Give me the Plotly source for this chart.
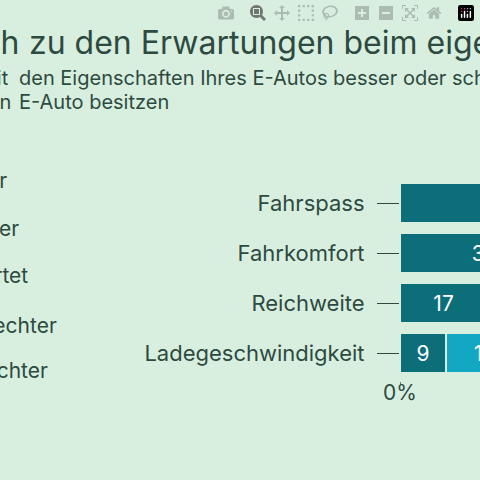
import plotly.graph_objects as go

# Data
categories = ["Fahrspass", "Fahrkomfort", "Reichweite", "Ladegeschwindigkeit"]
series_names = ["Viel besser", "Etwas besser", "Genau wie erwartet", "Etwas schlechter", "Viel schlechter"]
values = [
    [38, 33, 17, 9],
    [32, 36, 28, 15],
    [24, 25, 30, 38],
    [5, 5, 19, 28],
    [1, 1, 6, 10],
]
colors = ["#0b6e79", "#12a8c3", "#9fd3dc", "#e3a36a", "#c5613a"]

bg = "#d8efe0"
ink = "#2e4a40"
font = "Inter, Roboto, sans-serif"

fig = go.Figure()
for name, vals, col in zip(series_names, values, colors):
    fig.add_trace(go.Bar(
        y=categories, x=vals, name=name, orientation="h",
        marker=dict(color=col, line=dict(color=bg, width=1.5)),
        text=vals, textposition="inside", insidetextanchor="middle",
        textfont=dict(color="white", size=21, family=font),
        showlegend=False,
    ))

fig.update_layout(
    width=480, height=480,
    barmode="stack", bargap=0.2,
    paper_bgcolor=bg, plot_bgcolor=bg,
    margin=dict(l=0, r=0, t=0, b=0),
    font=dict(family=font, color=ink),
    uniformtext=dict(mode="show", minsize=21),
    xaxis=dict(domain=[397 / 480, 1], range=[0, 15.6], showgrid=False, zeroline=False,
               tickvals=[0], ticktext=["0%"], ticks="", tickfont=dict(size=21, color=ink)),
    yaxis=dict(domain=[1 - 378 / 480, 1 - 178 / 480], autorange="reversed",
               ticks="outside", ticklen=22, tickcolor=ink, tickwidth=1.2,
               ticklabelstandoff=8,
               tickfont=dict(size=22, color=ink), showline=False),
)

# zero marks at the axis start
fig.add_shape(type="line", xref="x", yref="paper", x0=0, x1=0,
              y0=1 - 384 / 480, y1=1 - 176 / 480,
              line=dict(color=ink, width=1.5, dash="2px,46px"), layer="below")

def px(x):
    return x / 480

def py(y):
    return 1 - y / 480

# title and subtitle (cropped at the sides)
texts = [
    ("E-Autos: Eigenschaften im Vergleich", 4, 42, "right", 32),
    ("zu den Erwartungen beim eigenen E-Auto", 10, 42, "left", 32),
    ("Sind Sie mit", -6, 78, "right", 20),
    ("den Eigenschaften Ihres E-Autos besser oder schlechter zufrieden als erwartet?", 0, 78, "left", 20),
    ("Befragte, die ein", -4, 102, "right", 20),
    ("E-Auto besitzen", 0, 102, "left", 20),
]
for t, x, y, anc, size in texts:
    fig.add_annotation(text=t, xref="paper", yref="paper", x=px(x), y=py(y),
                       xanchor=anc, yanchor="middle", showarrow=False,
                       font=dict(size=size, color=ink, family=font))

# legend labels (cropped on the left)
legend_pos = [(-8, 180), (4, 228), (13, 275), (44, 325), (34, 370)]
for name, (x, y) in zip(series_names, legend_pos):
    fig.add_annotation(text=name, xref="paper", yref="paper", x=px(x), y=py(y),
                       xanchor="right", yanchor="middle", showarrow=False,
                       font=dict(size=21, color=ink, family=font))

html_file = "out.html"
fig.write_html(html_file)

# remove the page margin so the figure fills the window
with open(html_file, "r", encoding="utf-8") as f:
    html_content = f.read()
html_content = html_content.replace("<head>", "<head>\n<style>body{margin:0;background:%s;}</style>" % bg, 1)
with open(html_file, "w", encoding="utf-8") as f:
    f.write(html_content)
